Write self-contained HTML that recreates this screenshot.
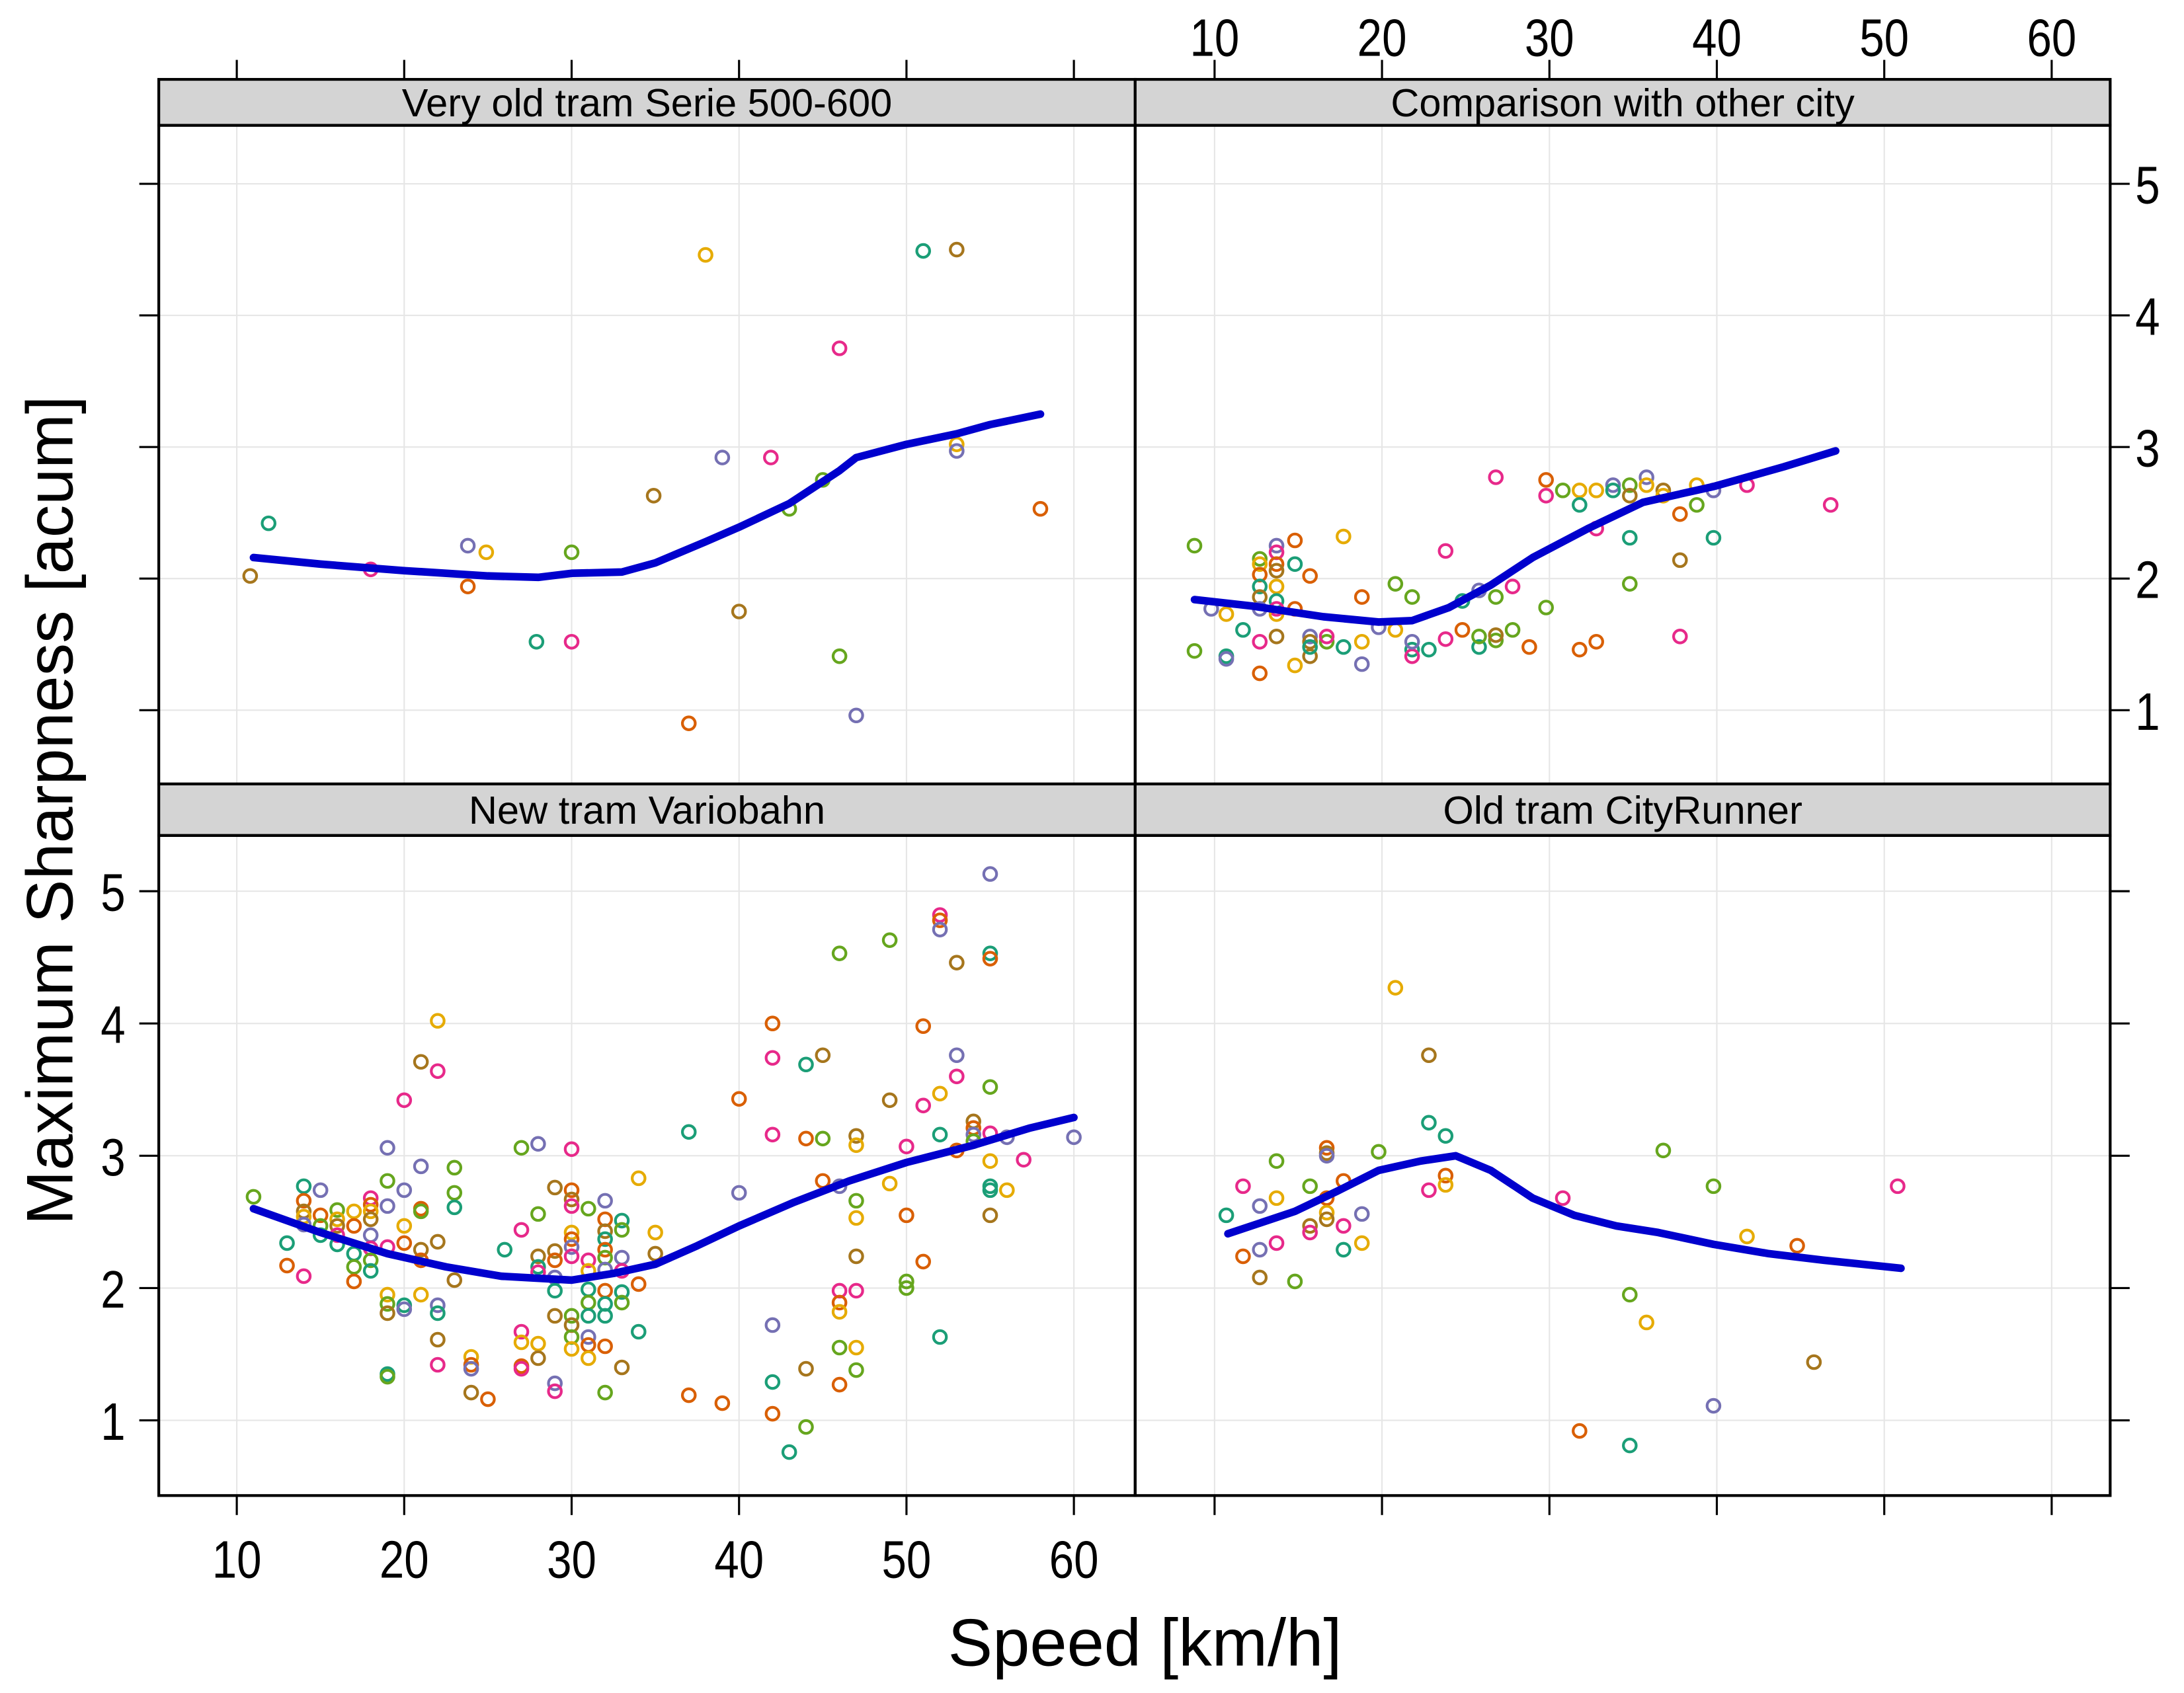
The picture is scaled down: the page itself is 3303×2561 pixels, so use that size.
<!DOCTYPE html>
<html><head><meta charset="utf-8"><style>
html,body{margin:0;padding:0;background:#fff}
svg{display:block}
text{font-family:"Liberation Sans",Arial,sans-serif;fill:#000}
</style></head><body>
<svg id="chart" xmlns="http://www.w3.org/2000/svg" width="3303" height="2561" viewBox="0 0 1568 1215.8" preserveAspectRatio="none">
<g id="grid"></g>
<g id="marks"></g>
<g id="frame"></g>
<g id="axes"></g>
<text transform="translate(52,582) rotate(-90)" text-anchor="middle" font-size="47">Maximum Sharpness [acum]</text>
<text x="822" y="1196" text-anchor="middle" font-size="48">Speed [km/h]</text>
</svg>
<script>
const NS='http://www.w3.org/2000/svg';
const COLORS=['#1B9E77','#D95F02','#7570B3','#E7298A','#66A61E','#E6AB02','#A6761D'];
const xTicks=[10,20,30,40,50,60];
const yTicks=[1,2,3,4,5];
const panelTitles=['Very old tram Serie 500-600','Comparison with other city','New tram Variobahn','Old tram CityRunner'];
const titleWidths=[352,333,256,258];

// Panel 1: Very old tram
const p1Speed=[10.8,11.9,18,23.8,24.9,23.8,27.9,30,30,34.9,37,38,39,40,41.9,43,45,46,46,47,51,53,53,53,58];
const p1Sharp=[2.02,2.42,2.07,2.25,2.2,1.94,1.52,2.2,1.52,2.63,0.9,4.46,2.92,1.75,2.92,2.53,2.75,3.75,1.41,0.96,4.49,4.5,3.02,2.97,2.53];
const p1Col=[6,0,3,2,5,1,0,4,3,6,1,5,2,6,3,4,4,3,4,2,0,6,5,2,1];
const p1FitX=[11,15,20,25,28,30,33,35,38,40,43,46,47,50,53,55,58];
const p1FitY=[2.16,2.11,2.06,2.02,2.01,2.04,2.05,2.12,2.28,2.39,2.57,2.82,2.92,3.02,3.1,3.17,3.25];

// Panel 2: Comparison with other city
const p2Speed=[8.8,8.8,9.8,10.7,10.7,10.7,11.7,12.7,12.7,12.7,12.7,12.7,12.7,12.7,12.7,13.7,13.7,13.7,13.7,13.7,13.7,13.7,13.7,13.7,14.8,14.8,14.8,14.8,15.7,15.7,15.7,15.7,15.7,16.7,16.7,17.7,17.7,18.8,18.8,18.8,19.8,20.8,20.8,21.8,21.8,21.8,21.8,22.8,23.8,23.8,24.8,24.8,25.8,25.8,25.8,26.8,26.8,26.8,26.8,27.8,27.8,28.8,29.8,29.8,29.8,30.8,31.8,31.8,31.8,32.8,32.8,32.8,33.8,33.8,34.8,34.8,34.8,34.8,35.8,35.8,36.8,36.8,37.8,37.8,37.8,38.8,38.8,39.8,39.8,41.8,46.8];
const p2Sharp=[2.25,1.45,1.77,1.73,1.41,1.39,1.61,2.15,2.11,2.03,1.94,1.86,1.77,1.52,1.28,2.25,2.2,2.11,2.06,1.94,1.83,1.77,1.73,1.56,2.29,2.11,1.77,1.34,2.02,1.56,1.52,1.41,1.48,1.52,1.56,2.32,1.48,1.86,1.52,1.35,1.63,1.96,1.61,1.86,1.46,1.41,1.52,1.46,2.21,1.54,1.61,1.83,1.91,1.48,1.56,1.53,1.57,2.77,1.86,1.94,1.61,1.48,1.78,2.75,2.63,2.67,1.46,2.67,2.56,2.38,1.52,2.67,2.71,2.67,2.71,2.63,2.31,1.96,2.77,2.71,2.67,2.63,2.49,2.14,1.56,2.71,2.56,2.67,2.31,2.71,2.56];
const p2Col=[4,4,2,5,0,2,0,4,5,1,0,6,2,3,1,2,3,1,6,5,0,3,5,6,1,0,1,5,1,2,6,6,0,4,3,5,0,1,5,2,2,4,5,4,0,3,2,0,3,3,1,0,2,0,4,4,6,3,4,3,4,1,4,1,3,4,1,5,0,3,1,5,2,0,4,6,0,4,2,5,6,5,1,6,3,5,4,2,0,3,3];
const p2FitX=[8.8,12.3,16.5,19.8,21.8,24,26.5,29,32.3,35.6,39.8,44,47.1];
const p2FitY=[1.84,1.79,1.71,1.67,1.68,1.78,1.95,2.16,2.38,2.58,2.7,2.85,2.97];

// Panel 3: New tram Variobahn
const p3Speed=[11,13,13,14,14,14,14,14,14,15,15,15,15,16,16,16,16,16,17,17,17,17,17,18,18,18,18,18,18,18,18,19,19,19,19,19,19,19,19,19,20,20,20,20,20,20,21,21,21,21,21,21,21,22,22,22,22,22,22,22,23,23,23,23,24,24,24,24,25,26,27,27,27,27,27,27,28,28,28,28,28,28,28,29,29,29,29,29,29,29,29,30,30,30,30,30,30,30,30,30,30,30,30,31,31,31,31,31,31,31,31,31,32,32,32,32,32,32,32,32,32,32,32,32,33,33,33,33,33,33,33,34,34,34,35,35,37,37,39,40,40,42,42,42,42,42,42,43,44,44,44,44,45,45,45,46,46,46,46,46,46,46,47,47,47,47,47,47,47,47,49,49,49,50,50,50,50,51,51,51,52,52,52,52,52,52,53,53,53,53,54,54,54,54,55,55,55,55,55,55,55,55,55,56,56,57,60];
const p3Sharp=[2.69,2.34,2.17,2.77,2.66,2.58,2.54,2.48,2.09,2.74,2.55,2.47,2.4,2.59,2.52,2.47,2.4,2.33,2.58,2.47,2.26,2.16,2.05,2.68,2.63,2.58,2.52,2.4,2.3,2.21,2.13,3.06,2.81,2.62,2.31,1.95,1.88,1.81,1.35,1.33,3.42,2.74,2.47,2.34,1.87,1.84,3.71,2.92,2.6,2.58,2.29,2.21,1.95,4.02,3.64,2.35,1.87,1.81,1.61,1.42,2.91,2.72,2.61,2.06,1.48,1.42,1.39,1.21,1.16,2.29,3.06,2.44,1.67,1.59,1.41,1.39,3.09,2.56,2.24,2.16,2.12,1.58,1.47,2.76,2.28,2.21,2.08,1.98,1.79,1.28,1.22,3.05,2.74,2.67,2.62,2.42,2.37,2.31,2.24,1.79,1.72,1.63,1.54,2.6,2.21,2.13,1.99,1.89,1.79,1.63,1.57,1.47,2.66,2.52,2.43,2.37,2.29,2.23,2.14,1.98,1.88,1.79,1.56,1.21,2.51,2.44,2.23,2.13,1.97,1.89,1.4,2.83,2.03,1.67,2.42,2.26,3.18,1.19,1.13,3.43,2.72,4.0,3.74,3.16,1.72,1.29,1.05,0.76,3.69,3.13,1.39,0.95,3.76,3.13,2.81,4.53,2.77,1.98,1.89,1.82,1.55,1.27,3.15,3.08,2.66,2.53,2.24,1.98,1.55,1.38,4.63,3.42,2.79,3.07,2.55,2.05,2.0,3.98,3.38,2.2,4.82,4.78,4.71,3.47,3.16,1.63,4.46,3.76,3.6,3.04,3.26,3.21,3.16,3.11,5.13,4.53,4.49,3.52,3.17,2.96,2.77,2.74,2.55,3.14,2.74,2.97,3.14];
const p3Col=[4,0,1,0,1,6,5,2,3,2,1,4,0,4,5,6,3,0,5,1,0,4,1,3,1,5,6,2,3,4,0,2,4,2,3,5,4,6,0,4,3,2,5,1,0,2,6,2,1,4,6,1,5,5,3,6,2,0,6,3,4,4,0,6,5,1,2,6,1,0,4,3,3,5,1,3,2,4,6,0,3,5,6,6,6,1,2,0,6,2,3,3,1,6,3,5,1,2,3,4,6,4,5,4,3,5,0,4,0,2,1,5,2,1,6,0,1,4,2,1,0,0,1,4,0,4,2,3,0,4,6,5,1,0,5,6,0,1,1,1,2,1,3,3,2,0,1,0,0,1,6,4,6,4,1,4,2,3,1,5,4,1,6,5,4,5,6,3,5,4,4,6,5,3,1,4,4,1,3,1,3,1,2,5,0,0,6,2,3,1,6,1,2,4,2,0,1,4,3,5,0,0,6,2,5,3,2];
const p3FitX=[11,15,19,22.5,25.8,30,32.5,35,37.5,40,43.3,46.6,50,54,57.4,60];
const p3FitY=[2.6,2.42,2.26,2.16,2.09,2.06,2.11,2.18,2.32,2.47,2.65,2.81,2.95,3.08,3.21,3.29];

// Panel 4: Old tram CityRunner
const p4Speed=[10.7,11.7,11.7,12.7,12.7,12.7,13.7,13.7,13.7,14.8,15.7,15.7,15.7,16.7,16.7,16.7,16.7,16.7,16.7,17.7,17.7,17.7,18.8,18.8,19.8,20.8,22.8,22.8,22.8,23.8,23.8,23.8,30.8,31.8,34.8,34.8,35.8,36.8,39.8,39.8,41.8,44.8,45.8,50.8];
const p4Sharp=[2.55,2.77,2.24,2.62,2.29,2.08,2.96,2.68,2.34,2.05,2.77,2.47,2.42,3.06,3.02,3.0,2.68,2.57,2.52,2.81,2.47,2.29,2.56,2.34,3.03,4.27,3.76,3.25,2.74,3.15,2.85,2.78,2.68,0.92,1.95,0.81,1.74,3.04,1.11,2.77,2.39,2.32,1.44,2.77];
const p4Col=[0,3,1,2,2,6,4,5,3,4,4,6,3,1,6,2,1,5,6,1,3,0,2,5,4,5,6,0,3,0,1,5,3,1,4,0,5,4,2,4,5,1,6,3];
const p4FitX=[10.8,14.8,17.3,19.8,22.3,24.4,26.5,29,31.5,34,36.5,39.8,43.1,46.4,51];
const p4FitY=[2.41,2.58,2.73,2.89,2.96,3.0,2.89,2.68,2.55,2.47,2.42,2.33,2.26,2.21,2.15];

const colX0=[114,815], colX1=[815,1515];
const rowStrip=[57,563], rowTop=[90,600], rowBot=[563,1074];
function xScale(col,v){return 170+(v-10)*12.02+col*702;}
function yScale(row,v){return row===0?510-(v-1)*94.5:1020-(v-1)*95;}

const grid=document.getElementById('grid'), marks=document.getElementById('marks'), frame=document.getElementById('frame'), axes=document.getElementById('axes');
function mk(tag,attrs,parent){const e=document.createElementNS(NS,tag);for(const k in attrs)e.setAttribute(k,attrs[k]);parent.appendChild(e);return e;}
function label(x,y,txt,anchor,name){
  const l=mk('text',{transform:'translate('+x+','+y+') scale(0.84,1)','text-anchor':anchor,'font-size':38},axes);
  l.textContent=txt;
  
  
}

const panels=[
 {col:0,row:0,sp:p1Speed,sh:p1Sharp,c:p1Col,fx:p1FitX,fy:p1FitY},
 {col:1,row:0,sp:p2Speed,sh:p2Sharp,c:p2Col,fx:p2FitX,fy:p2FitY},
 {col:0,row:1,sp:p3Speed,sh:p3Sharp,c:p3Col,fx:p3FitX,fy:p3FitY},
 {col:1,row:1,sp:p4Speed,sh:p4Sharp,c:p4Col,fx:p4FitX,fy:p4FitY}];

panels.forEach((p,i)=>{
  const x0=colX0[p.col],x1=colX1[p.col],y0=rowTop[p.row],y1=rowBot[p.row];
  const g=mk('g',{},grid);
  
  
  xTicks.forEach(t=>{const x=xScale(p.col,t);mk('line',{x1:x,x2:x,y1:y0,y2:y1,stroke:'#e6e6e6','stroke-width':1},g);});
  yTicks.forEach(t=>{const y=yScale(p.row,t);mk('line',{x1:x0,x2:x1,y1:y,y2:y,stroke:'#e6e6e6','stroke-width':1},g);});
  const pg=mk('g',{},marks);
  
  
  p.sp.forEach((s,j)=>{
    const c=mk('circle',{cx:xScale(p.col,s),cy:yScale(p.row,p.sh[j]),r:4.6,fill:'none',stroke:COLORS[p.c[j]],'stroke-width':2},pg);
    
    
  });
  const d=p.fx.map((v,j)=>(j?'L':'M')+xScale(p.col,v).toFixed(1)+','+yScale(p.row,p.fy[j]).toFixed(1)).join(' ');
  const ln=mk('path',{d:d,fill:'none',stroke:'#0000CD','stroke-width':5.5,'stroke-linejoin':'round','stroke-linecap':'round'},marks);
  
  
  const sy=rowStrip[p.row];
  const st=mk('rect',{x:x0,y:sy,width:x1-x0,height:y0-sy,fill:'#d4d4d4',stroke:'#000','stroke-width':2},frame);
  
  
  const tt=mk('text',{x:(x0+x1)/2,y:sy+(y0-sy)/2+10,'text-anchor':'middle','font-size':28,textLength:titleWidths[i],lengthAdjust:'spacingAndGlyphs'},frame);
  tt.textContent=panelTitles[i];
  
  
  const fr=mk('rect',{x:x0,y:y0,width:x1-x0,height:y1-y0,fill:'none',stroke:'#000','stroke-width':2},frame);
  
  
});

[0,1].forEach(col=>{
  xTicks.forEach(t=>{
    const x=xScale(col,t);
    mk('line',{x1:x,x2:x,y1:43,y2:57,stroke:'#000','stroke-width':1.5},axes);
    mk('line',{x1:x,x2:x,y1:1074,y2:1088,stroke:'#000','stroke-width':1.5},axes);
    if(col===1) label(x,40,t,'middle','x-tick-label-top');
    if(col===0) label(x,1133,t,'middle','x-tick-label');
  });
});
[0,1].forEach(row=>{
  yTicks.forEach(t=>{
    const y=yScale(row,t);
    mk('line',{x1:100,x2:114,y1:y,y2:y,stroke:'#000','stroke-width':1.5},axes);
    mk('line',{x1:1515,x2:1529,y1:y,y2:y,stroke:'#000','stroke-width':1.5},axes);
    if(row===1) label(90,y+14,t,'end','y-tick-label');
    if(row===0) label(1533,y+14,t,'start','y-tick-label-right');
  });
});
</script>
</body></html>
